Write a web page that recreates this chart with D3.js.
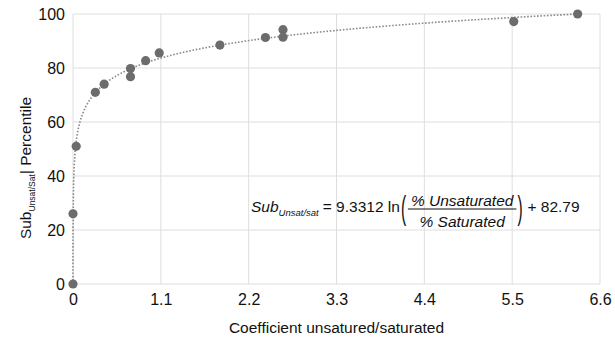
<!DOCTYPE html>
<html>
<head>
<meta charset="utf-8">
<script src="https://cdn.jsdelivr.net/npm/d3@7"></script>
<style>
  html, body { margin: 0; padding: 0; background: #fff; }
  svg { display: block; font-family: "Liberation Sans", Arial, Helvetica, sans-serif; }
</style>
</head>
<body>
<svg id="chart" width="615" height="340"></svg>
<script>
// Coefficient of unsaturated/saturated fat vs. percentile
const coefficient = [0, 0, 0.04, 0.28, 0.39, 0.72, 0.72, 0.91, 1.08, 1.84, 2.41, 2.63, 2.63, 5.52, 6.32];
const percentile  = [0, 26, 51, 71, 74, 79.8, 76.8, 82.7, 85.6, 88.5, 91.3, 94.2, 91.4, 97.2, 100];

const xTicks = [0, 1.1, 2.2, 3.3, 4.4, 5.5, 6.6];
const yTicks = [0, 20, 40, 60, 80, 100];

// Logarithmic fit: Sub = a ln(x) + b
const fitA = 9.3312;
const fitB = 82.79;

const svg = d3.select("#chart");
const W = 615, H = 340;
const margin = { left: 73, right: 15, top: 14, bottom: 56 };
const iw = W - margin.left - margin.right;
const ih = H - margin.top - margin.bottom;

const x = d3.scaleLinear().domain([0, 6.6]).range([margin.left, margin.left + iw]);
const y = d3.scaleLinear().domain([0, 100]).range([margin.top + ih, margin.top]);

const gridColor = "#dedede";
const g = svg.append("g");

// gridlines
g.selectAll("line.vgrid").data(xTicks).join("line")
  .attr("x1", d => x(d)).attr("x2", d => x(d))
  .attr("y1", y(0)).attr("y2", y(100))
  .attr("stroke", gridColor).attr("stroke-width", 1);
g.selectAll("line.hgrid").data(yTicks).join("line")
  .attr("x1", x(0)).attr("x2", x(6.6))
  .attr("y1", d => y(d)).attr("y2", d => y(d))
  .attr("stroke", gridColor).attr("stroke-width", 1);

// axes (labels only, lines come from the grid)
const xAxis = d3.axisBottom(x).tickValues(xTicks).tickSize(0).tickPadding(10)
  .tickFormat(d => d === 0 ? "0" : d3.format(".1f")(d));
const gx = svg.append("g").attr("transform", `translate(0,${y(0)})`).call(xAxis);
gx.select(".domain").remove();
gx.selectAll("text").attr("font-size", 16).attr("fill", "#111").attr("font-family", null);

const yAxis = d3.axisLeft(y).tickValues(yTicks).tickSize(0).tickPadding(8);
const gy = svg.append("g").attr("transform", `translate(${x(0)},0)`).call(yAxis);
gy.select(".domain").remove();
gy.selectAll("text").attr("font-size", 16).attr("fill", "#111").attr("font-family", null);

// trend curve sampled from the fitted equation
const x0 = Math.exp(-fitB / fitA);
const x1 = d3.max(coefficient);
const trend = d3.range(0, 201).map(i => {
  const xv = x0 * Math.pow(x1 / x0, i / 200);
  return [xv, fitA * Math.log(xv) + fitB];
});
svg.append("path")
  .datum(trend)
  .attr("fill", "none")
  .attr("stroke", "#8a8a8a")
  .attr("stroke-width", 1.6)
  .attr("stroke-dasharray", "1.6,1.7")
  .attr("d", d3.line().x(d => x(d[0])).y(d => y(d[1])));

// data points
svg.append("g").selectAll("circle")
  .data(coefficient.map((c, i) => [c, percentile[i]]))
  .join("circle")
  .attr("cx", d => x(d[0])).attr("cy", d => y(d[1]))
  .attr("r", 4.6)
  .attr("fill", "#6c6c6c");

// axis titles
svg.append("text")
  .attr("x", (x(0) + x(6.6)) / 2).attr("y", 333)
  .attr("text-anchor", "middle").attr("font-size", 15.5).attr("fill", "#111")
  .text("Coefficient unsatured/saturated");

const yt = svg.append("text")
  .attr("transform", "translate(31,168) rotate(-90)")
  .attr("text-anchor", "middle").attr("font-size", 15.5).attr("fill", "#111");
yt.append("tspan").text("Sub");
yt.append("tspan").attr("font-size", 8.5).attr("dy", 4).text("Unsat/Sat");
yt.append("tspan").attr("dy", -4).text("| Percentile");

// equation label
const eq = svg.append("g").attr("fill", "#111").attr("font-size", 15.5);
const base = 212;
let cx = 251;
function put(txt, opts = {}) {
  const t = eq.append("text").attr("x", cx).attr("y", opts.y ?? base)
    .attr("font-size", opts.size ?? 15.5)
    .attr("font-style", opts.italic ? "italic" : "normal")
    .text(txt);
  cx += t.node().getComputedTextLength() + (opts.gap ?? 0);
  return t;
}
put("Sub", { italic: true });
put("Unsat/sat", { italic: true, size: 9.5, y: base + 4, gap: 4 });
put("= 9.3312 ln");
// opening bracket, stretched vertically
const parenY = 210;
eq.append("text").attr("transform", `translate(${cx + 1},${parenY}) scale(1,2.2)`)
  .attr("dominant-baseline", "middle").attr("font-size", 15.5).text("(");
cx += 8;
const num = "% Unsaturated", den = "% Saturated";
const fracLeft = cx;
const tn = eq.append("text").attr("y", base - 6).attr("font-style", "italic")
  .attr("text-anchor", "middle").text(num);
const fw = tn.node().getComputedTextLength() + 6;
const fc = fracLeft + fw / 2;
tn.attr("x", fc);
eq.append("text").attr("x", fc).attr("y", base + 15).attr("font-style", "italic")
  .attr("text-anchor", "middle").text(den);
eq.append("line").attr("x1", fracLeft).attr("x2", fracLeft + fw)
  .attr("y1", 209).attr("y2", 209).attr("stroke", "#111").attr("stroke-width", 1);
cx = fracLeft + fw + 1;
eq.append("text").attr("transform", `translate(${cx},${parenY}) scale(1,2.2)`)
  .attr("dominant-baseline", "middle").attr("font-size", 15.5).text(")");
cx += 10;
put("+ 82.79");
</script>
</body>
</html>
